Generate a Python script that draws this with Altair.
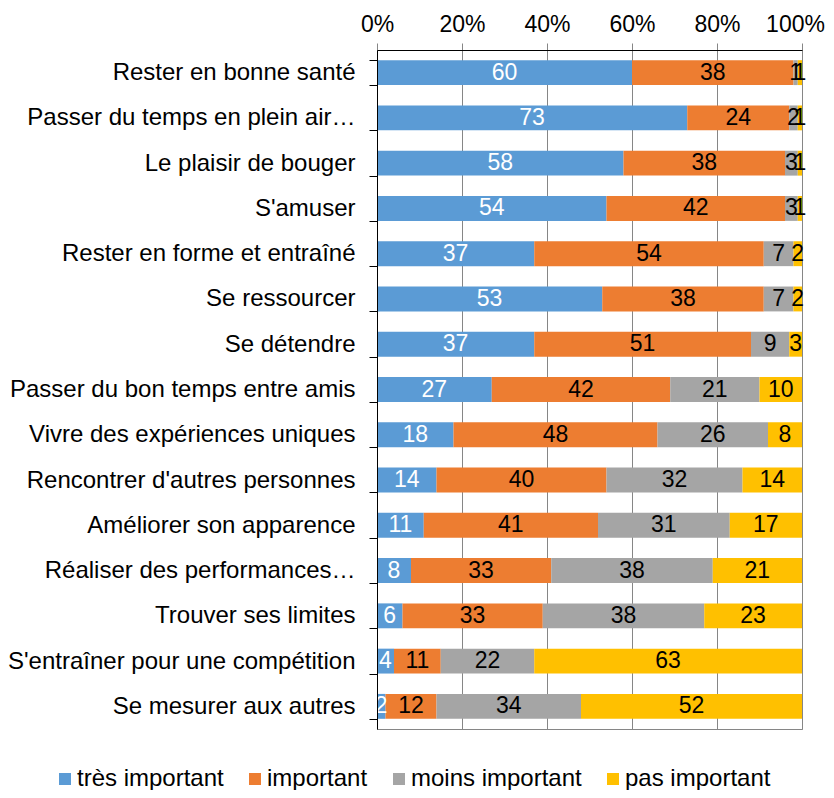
import altair as alt
import pandas as pd

tasks = [
    "Rester en bonne santé",
    "Passer du temps en plein air…",
    "Le plaisir de bouger",
    "S'amuser",
    "Rester en forme et entraîné",
    "Se ressourcer",
    "Se détendre",
    "Passer du bon temps entre amis",
    "Vivre des expériences uniques",
    "Rencontrer d'autres personnes",
    "Améliorer son apparence",
    "Réaliser des performances…",
    "Trouver ses limites",
    "S'entraîner pour une compétition",
    "Se mesurer aux autres",
]
series = ["très important", "important", "moins important", "pas important"]
tres_important = [60, 73, 58, 54, 37, 53, 37, 27, 18, 14, 11, 8, 6, 4, 2]
important = [38, 24, 38, 42, 54, 38, 51, 42, 48, 40, 41, 33, 33, 11, 12]
moins_important = [1, 2, 3, 3, 7, 7, 9, 21, 26, 32, 31, 38, 38, 22, 34]
pas_important = [1, 1, 1, 1, 2, 2, 3, 10, 8, 14, 17, 21, 23, 63, 52]
colors = ["#5B9BD5", "#ED7D31", "#A5A5A5", "#FFC000"]
x_ticks = [0, 20, 40, 60, 80, 100]

rows = []
for i, t in enumerate(tasks):
    for j, vals in enumerate([tres_important, important, moins_important, pas_important]):
        rows.append({"task": t, "series": series[j], "order": j, "value": vals[i]})
df = pd.DataFrame(rows)

FONT = "Liberation Sans"
FS = 23
FS_LAB = 24
GRID = "#868686"

y_enc = alt.Y(
    "task:N",
    sort=tasks,
    title=None,
    scale=alt.Scale(paddingInner=0.45, paddingOuter=0.225),
    axis=alt.Axis(
        tickBand="extent",
        tickSize=8,
        labelPadding=14,
        labelFontSize=FS_LAB,
        labelFont=FONT,
        labelColor="black",
        domainColor="black",
        tickColor="black",
        labelLimit=450,
        grid=False,
        zindex=1,
    ),
)

base = alt.Chart(df).transform_stack(
    stack="value", as_=["x0", "x1"], groupby=["task"], sort=[alt.SortField("order")]
).transform_calculate(mid="(datum.x0 + datum.x1) / 2")

bars = base.mark_bar().encode(
    y=y_enc,
    x=alt.X(
        "x0:Q",
        title=None,
        scale=alt.Scale(domain=[0, 100], nice=False),
        axis=alt.Axis(
            orient="top",
            values=x_ticks,
            labelExpr="datum.value + '%'",
            labelFontSize=FS,
            labelFont=FONT,
            labelColor="black",
            labelFlush=False,
            labelOverlap=False,
            labelOffset={"condition": {"test": "datum.value == 100", "value": -7}, "value": 0},
            domainColor="black",
            tickColor=GRID,
            tickSize=7,
            labelPadding=7,
            grid=True,
            gridColor=GRID,
            gridOpacity=1,
        ),
    ),
    x2="x1:Q",
    color=alt.Color(
        "series:N",
        scale=alt.Scale(domain=series, range=colors),
        legend=alt.Legend(
            title=None,
            orient="none",
            legendX=-324,
            legendY=717,
            direction="horizontal",
            symbolType="square",
            symbolSize=144,
            symbolStrokeWidth=0,
            labelFontSize=FS_LAB,
            labelFont=FONT,
            labelColor="black",
            columnPadding=19,
            labelOffset=0,
            labelLimit=300,
        ),
    ),
)

text = base.mark_text(fontSize=FS, font=FONT).encode(
    y=alt.Y("task:N", sort=tasks),
    x=alt.X("mid:Q"),
    text="value:Q",
    color=alt.condition("datum.order == 0", alt.value("white"), alt.value("black")),
)

chart = (
    alt.layer(bars, text)
    .properties(
        width=425,
        height=679,
        padding={"left": 369, "top": 42, "right": 24, "bottom": 61},
        autosize=alt.AutoSizeParams(type="none"),
    )
    .configure_view(stroke=GRID)
)

chart.save("out.html", embed_options={"renderer": "svg", "actions": False})
